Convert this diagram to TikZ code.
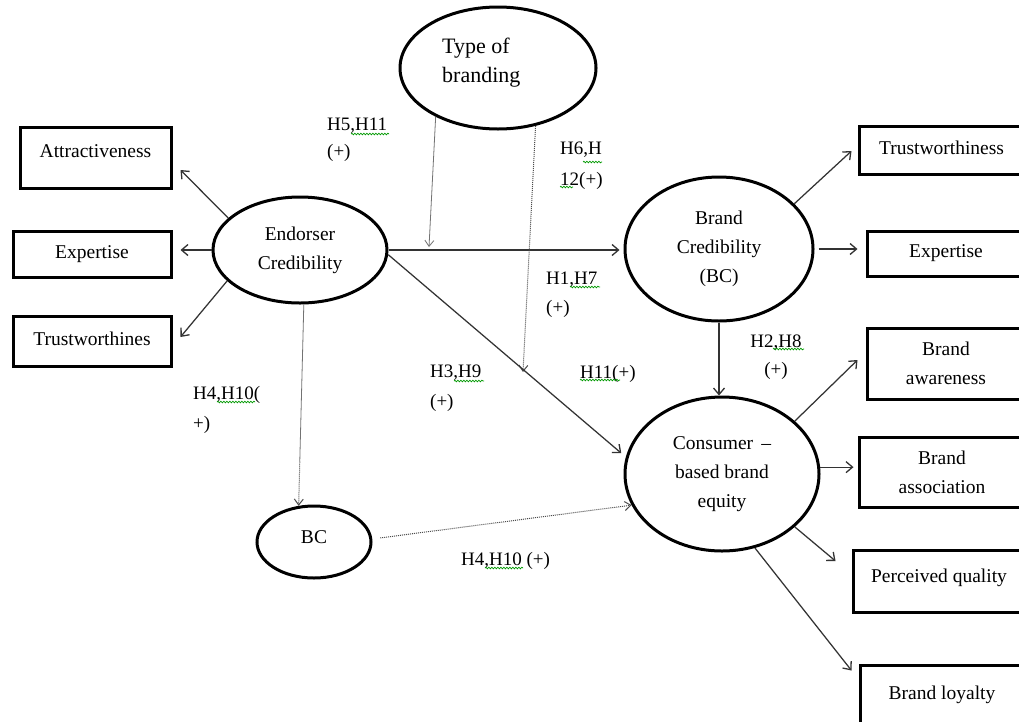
\documentclass[tikz,border=0pt]{standalone}
\usepackage{fontspec}
\setmainfont{Liberation Serif}
\usetikzlibrary{shapes.geometric,arrows.meta,calc,decorations.pathmorphing}
\begin{document}
\begin{tikzpicture}[x=1pt,y=-1pt,
 font=\fontsize{19.5}{29}\selectfont,
 ell/.style={draw, ellipse, line width=3pt, inner sep=0pt, align=center},
 rbox/.style={draw, rectangle, line width=3pt, inner sep=0pt, align=center},
 lab/.style={inner sep=0pt, anchor=north west, align=left, font=\fontsize{19}{29}\selectfont},
 arr/.style={draw=black!80, line width=1.25pt, -{Straight Barb[length=6.5pt,width=11pt,line width=1.3pt]}},
 thinarr/.style={draw=black!55, line width=0.8pt, -{Straight Barb[length=6pt,width=9pt]}},
 thinline/.style={draw=black!55, line width=0.8pt},
 dotarr/.style={draw=black!70, line width=1pt, densely dotted, -{Straight Barb[length=6pt,width=9pt]}},
 sq/.style={draw=green!60!black, line width=0.7pt, decorate, decoration={snake, amplitude=0.8pt, segment length=3pt}}
]
\useasboundingbox (0,0) rectangle (1019,721);
\fill[white] (0,0) rectangle (1019,721);
\clip (0,0) rectangle (1019,721);

% ellipses
\node[ell, minimum width=196pt, minimum height=122pt] (tob) at (498,68) {};
\node[lab, font=\fontsize{22}{29}\selectfont] (tobt) at (442,38) {Type of\\branding};
\node[ell, minimum width=174pt, minimum height=106pt] (ec) at (300,250) {Endorser\\Credibility};
\node[ell, minimum width=188pt, minimum height=144pt] (bcr) at (719,249) {Brand\\Credibility\\(BC)};
\node[ell, minimum width=194pt, minimum height=154pt] (ce) at (722,474) {Consumer \,–\\based brand\\equity};
\node[ell, minimum width=114pt, minimum height=72pt, text depth=10pt] (bcs) at (314,542) {BC};

% left boxes
\node[rbox, minimum width=151pt, minimum height=61pt, text depth=12pt] (attr) at (95.5,157.5) {Attractiveness};
\node[rbox, minimum width=158pt, minimum height=46pt] (exl) at (92,254) {Expertise};
\node[rbox, minimum width=158pt, minimum height=50pt, text depth=5pt] (trl) at (92,341) {Trustworthines};

% right boxes
\node[rbox, minimum width=165pt, minimum height=48pt, text depth=5pt] (trr) at (941.5,150) {Trustworthiness};
\node[rbox, minimum width=158pt, minimum height=45pt] (exr) at (946,253.5) {Expertise};
\node[rbox, minimum width=158pt, minimum height=71pt] (baw) at (946,363.5) {Brand\\awareness};
\node[rbox, minimum width=166pt, minimum height=70pt] (bas) at (942,472) {Brand\\association};
\node[rbox, minimum width=172pt, minimum height=62pt, text depth=11pt] (pq) at (939,581) {Perceived quality};
\node[rbox, minimum width=164pt, minimum height=59pt] (bl) at (942,694.5) {Brand loyalty};

% labels
\node[lab] (h511) at (327,118) {H5,H11\\[-2pt](+)};
\node[lab] (h612) at (560,142) {H6,H\\[2pt]12(+)};
\node[lab] (h17) at (546,272) {H1,H7\\(+)};
\node[lab, anchor=north, align=center] (h28) at (776,335) {H2,H8\\[-1pt](+)};
\node[lab] (h11) at (580,365) {H11(+)};
\node[lab] (h39) at (430,365) {H3,H9\\[1pt](+)};
\node[lab] (h410a) at (193,386) {H4,H10(\\[1pt]+)};
\node[lab] (h410b) at (461,552) {H4,H10 (+)};

% spell-check squiggles
\draw[sq] (351,134) -- (389,134);
\draw[sq] (583,162) -- (602,162);
\draw[sq] (560,187) -- (573,187);
\draw[sq] (570,287) -- (600,287);
\draw[sq] (773,349) -- (804,349);
\draw[sq] (580,380) -- (620,380);
\draw[sq] (454,381) -- (484,381);
\draw[sq] (217,402) -- (255,402);
\draw[sq] (485,568) -- (523,568);

% connectors
\draw[arr] (ec.156) -- ($(attr.east)+(8,12.5)$);
\draw[arr, shorten >=8pt] (ec.west) -- (ec.west -| exl.east);
\draw[arr] (ec.203) -- ($(trl.east)+(8,-4)$);
\draw[arr, shorten >=4pt] (ec.east) -- (ec.east -| bcr.west);
\coordinate (m1) at (429,247);
\draw[thinarr] (tob.218) -- (m1);
\coordinate (m2) at (523,372);
\draw[dotarr] (tob.303) -- (m2);
\draw[arr, shorten >=6pt] (ec.357) -- (ce.170);
\coordinate (m3) at ($(ec.274)!0.78!(bcs.113)$);
\draw[thinline] (ec.274) -- (m3);
\draw[dotarr] (m3) -- (bcs.113);
\draw[dotarr, shorten <=8pt] (bcs.3) -- (ce.199);
\draw[arr] (bcr.south) -- (bcr.south |- ce.north);
\draw[arr] (bcr.31) -- ($(trr.west)+(-6,1)$);
\draw[arr, shorten <=4pt, shorten >=8pt] (bcr.east) -- (bcr.east -| exr.west);
\draw[arr] (ce.36) -- ($(baw.west)+(-8,-3.5)$);
\draw[arr, shorten >=4pt] (ce.4) -- (ce.4 -| bas.west);
\draw[arr] (ce.324) -- ($(pq.west)+(-16,-20)$);
\draw[arr] (ce.294) -- ($(bl.north west)+(-7,7)$);
\end{tikzpicture}
\end{document}
